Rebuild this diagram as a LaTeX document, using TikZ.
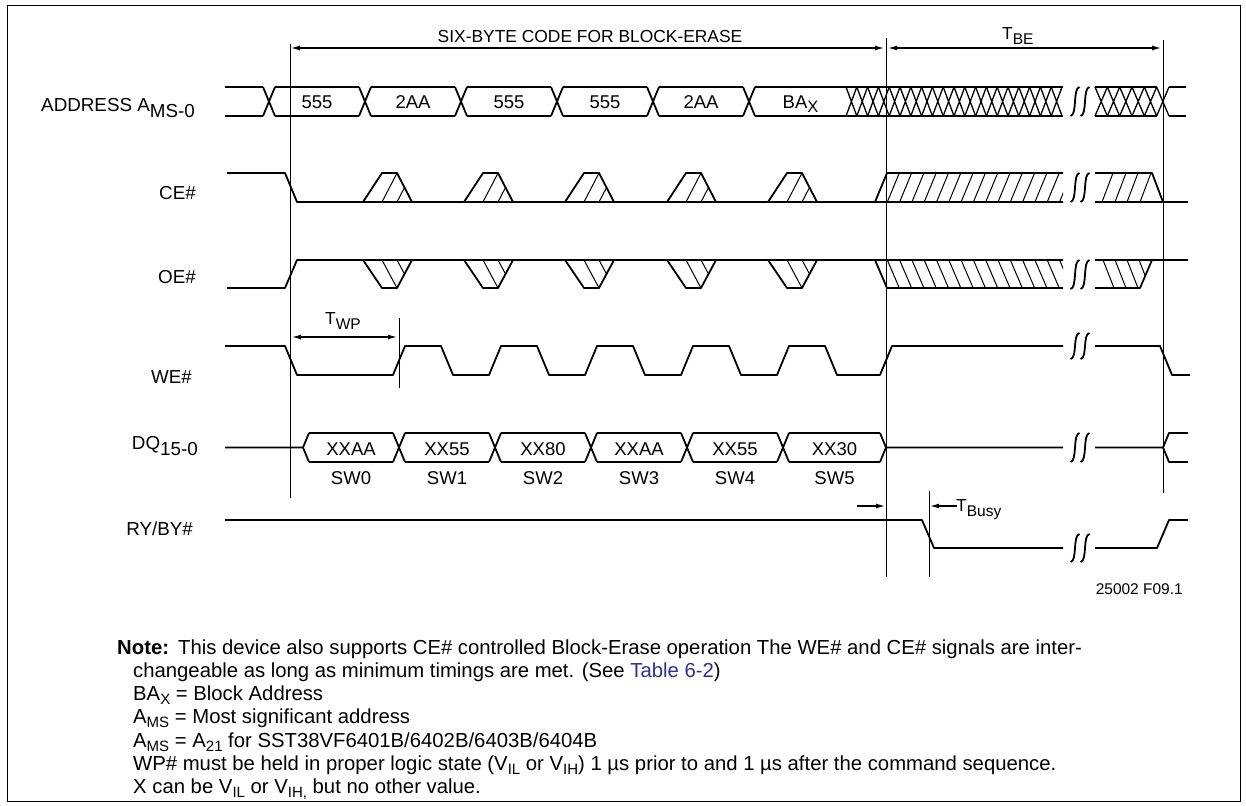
\documentclass[tikz,border=0pt]{standalone}
\usepackage{fontspec}
\setmainfont{Liberation Sans}
\usetikzlibrary{arrows.meta,calc}
\definecolor{tablink}{HTML}{2E3192}
\newcommand{\lsub}[1]{\raisebox{-5pt}{\fontsize{15.5}{15.5}\selectfont #1}}
\newcommand{\nsub}[1]{\raisebox{-4.5pt}{\fontsize{15}{15}\selectfont #1}}
\newcommand{\wavebreak}[3]{%
  \draw[brk] (#1+4.5,#2) .. controls (#1-2.5,#2+1) and (#1+2.5,#3-1) .. (#1-4.5,#3);
  \draw[brk] (#1+14.5,#2) .. controls (#1+7.5,#2+1) and (#1+12.5,#3-1) .. (#1+5.5,#3);}
\tikzset{
  sig/.style={line width=1.8pt,line join=round},
  brk/.style={line width=1.8pt},
  hatchln/.style={line width=1pt},
  lattice/.style={line width=1.3pt},
  vline/.style={line width=1pt},
  dimarr/.style={line width=1.2pt,{Latex[length=9pt,width=5pt]}-{Latex[length=9pt,width=5pt]}},
  onearr/.style={line width=1.2pt,-{Latex[length=9pt,width=5pt]}},
  lbl/.style={anchor=base east,inner sep=0pt,font=\fontsize{18.8}{20}\selectfont},
  val/.style={anchor=base,inner sep=0pt,font=\fontsize{18.5}{20}\selectfont},
  txt/.style={anchor=base west,inner sep=0pt},
  notetxt/.style={anchor=base west,inner sep=0pt,font=\fontsize{20.3}{23}\selectfont}
}
\begin{document}
\begin{tikzpicture}[x=1pt,y=-1pt,font=\fontsize{17.4}{20}\selectfont]
\useasboundingbox (0,0) rectangle (1246,805);
\draw[line width=0.8pt] (7,5) rectangle (1240,801);

% signal names
\node (addr) [lbl] at (195,112) {ADDRESS A\raisebox{-6pt}{MS-0}};
\node (ce) [lbl] at (196,200) {CE\#};
\node (oe) [lbl] at (196,283) {OE\#};
\node (we) [lbl] at (192,383) {WE\#};
\node (dq) [lbl] at (198,449) {DQ\raisebox{-6pt}{15-0}};
\node (ry) [lbl] at (193,535) {RY/BY\#};

% address
\draw[sig] (225,87) -- (263,87) (225,116) -- (263,116);
\foreach \c in {269,365,461,557,653,749}
  \draw[sig] (\c-6,87) -- (\c+6,116) (\c-6,116) -- (\c+6,87);
\foreach \a/\b/\t [count=\i] in {269/365/555,365/461/2AA,461/557/555,557/653/555,653/749/2AA,749/852/BA\raisebox{-4pt}{\fontsize{16.5}{16.5}\selectfont X}} {
  \draw[sig] (\a+6,87) -- (\b-6,87) (\a+6,116) -- (\b-6,116);
  \node (adr\i) [val] at ({(\a+\b)/2},108.5) {\t};
}
\draw[sig] (846,87) -- (1063,87) (846,116) -- (1063,116);
\foreach \i in {0,...,19}
  \draw[lattice] ({846+10.8*\i},87) -- ++(10.8,29) ({846+10.8*\i},116) -- ++(10.8,-29);
\draw[sig] (1095,87) -- (1157,87) (1095,116) -- (1157,116) (1169,87) -- (1186,87) (1169,116) -- (1186,116);
\foreach \i in {0,...,5}
  \draw[lattice] ({1095+12.33*\i},87) -- ++(12.33,29) ({1095+12.33*\i},116) -- ++(12.33,-29);
\wavebreak{1075}{87}{116}

% CE#
\draw[sig] (227,173) -- (285,173) -- (297,202) -- (1063,202) (1095,202) -- (1188,202);
\foreach \a in {363,464,565,667,768} {
  \draw[sig] (\a,202) -- ++(19,-29) -- ++(15,0) -- ++(15,29);
  \draw[hatchln] (\a+19,202) -- ++(15,-29) (\a+34,202) -- ++(7.5,-14.5);
}
\draw[sig] (875,202) -- (887,173) -- (1063,173);
\begin{scope}
  \clip (886,173) rectangle (1063,202);
  \foreach \i in {1,...,15} \draw[hatchln] ({875+12.3*\i},202) -- ++(12,-29);
\end{scope}
\draw[sig] (1095,173) -- (1152,173) -- (1163,202);
\foreach \x in {1102,1115,1127,1140} \draw[hatchln] (\x,202) -- ++(11,-29);
\wavebreak{1075}{173}{202}

% OE#
\draw[sig] (227,288) -- (285,288) -- (297,260) -- (1063,260) (1095,260) -- (1188,260);
\foreach \a in {363,464,565,667,768} {
  \draw[sig] (\a,260) -- ++(19,28) -- ++(15,0) -- ++(15,-28);
  \draw[hatchln] (\a+19,260) -- ++(15,28) (\a+34,260) -- ++(7.5,14);
}
\draw[sig] (875,260) -- (887,288) -- (1063,288);
\begin{scope}
  \clip (886,260) rectangle (1063,288);
  \foreach \i in {1,...,15} \draw[hatchln] ({875+12.3*\i},260) -- ++(12,28);
\end{scope}
\draw[sig] (1095,288) -- (1140,288) -- (1152,260);
\begin{scope}
  \clip (1095,260) -- (1152,260) -- (1140,288) -- (1095,288) -- cycle;
  \foreach \x in {1103,1115,1127,1139} \draw[hatchln] (\x,260) -- ++(11,28);
\end{scope}
\wavebreak{1075}{260}{289}

% WE#
\draw[sig] (225,346) -- (285,346) -- (297,375)
  \foreach \d in {399,495,591,687,783} { -- (\d-6,375) -- (\d+6,346) -- (\d+42,346) -- (\d+54,375) }
  -- (880,375) -- (892,346) -- (1063,346);
\draw[sig] (1095,346) -- (1160,346) -- (1172,375) -- (1190,375);
\wavebreak{1075}{333}{359}

% DQ
\draw[sig] (225,447.5) -- (303,447.5) (309,433) -- (303,447.5) -- (309,462);
\draw[sig] (880,433) -- (886,447.5) -- (880,462);
\foreach \c in {399,495,591,687,783}
  \draw[sig] (\c-6,433) -- (\c+6,462) (\c-6,462) -- (\c+6,433);
\foreach \a/\b/\t [count=\i] in {303/399/XXAA,399/495/XX55,495/591/XX80,591/687/XXAA,687/783/XX55,783/886/XX30} {
  \draw[sig] (\a+6,433) -- (\b-6,433) (\a+6,462) -- (\b-6,462);
  \node (dqv\i) [val] at ({(\a+\b)/2},455) {\t};
  \pgfmathtruncatemacro\k{\i-1}
  \node (sw\i) [val] at ({(\a+\b)/2},484) {SW\k};
}
\draw[sig] (886,447.5) -- (1063,447.5) (1095,447.5) -- (1163,447.5)
  (1188,433) -- (1169,433) -- (1163,447.5) -- (1169,462) -- (1188,462);
\wavebreak{1075}{433}{462}

% RY/BY#
\draw[sig] (225,520) -- (922,520) -- (934,548) -- (1063,548) (1095,548) -- (1157,548) -- (1169,520) -- (1188,520);
\wavebreak{1075}{534}{562}

% timing marks
\draw[vline] (290,44) -- (290,498);
\draw[vline] (886,38) -- (886,577);
\draw[vline] (1163,40) -- (1163,493);
\draw[vline] (929,491) -- (929,577);
\draw[vline] (399,318) -- (399,388);

\coordinate (codeL) at (291,48);
\coordinate (codeR) at (884,48);
\coordinate (tbeL) at (888,48);
\coordinate (tbeR) at (1161,48);
\coordinate (wpL) at (292,337);
\coordinate (wpR) at (397,337);
\coordinate (busyA) at (857,506);
\coordinate (busyB) at (885,506);
\coordinate (busyC) at (957,506);
\coordinate (busyD) at (930,506);
\draw[dimarr] (codeL) -- (codeR);
\draw[dimarr] (tbeL) -- (tbeR);
\draw[dimarr] (wpL) -- (wpR);
\draw[onearr] (busyA) -- (busyB);
\draw[onearr] (busyC) -- (busyD);

\node (code) [anchor=base,inner sep=0pt] at (590,42.5) {SIX-BYTE CODE FOR BLOCK-ERASE};
\node (tbe) [txt] at (1002,40) {T\lsub{BE}};
\node (twp) [txt] at (325,324) {T\lsub{WP}};
\node (tbusy) [txt] at (956,511) {T\lsub{Busy}};
\node (fig) [anchor=base east,inner sep=0pt,font=\fontsize{15.5}{18}\selectfont] at (1183,594) {25002 F09.1};

% notes
\node (note) [notetxt] at (117,654) {\textbf{Note:}};
\node (n1) [notetxt] at (178,654) {This device also supports CE\# controlled Block-Erase operation The WE\# and CE\# signals are inter-};
\node (n2) [notetxt] at (133,677) {changeable as long as minimum timings are met. (See \textcolor{tablink}{Table 6-2})};
\node (n3) [notetxt] at (133,700) {BA\nsub{X} = Block Address};
\node (n4) [notetxt] at (133,723) {A\nsub{MS} = Most significant address};
\node (n5) [notetxt] at (133,747) {A\nsub{MS} = A\nsub{21} for SST38VF6401B/6402B/6403B/6404B};
\node (n6) [notetxt] at (133,770) {WP\# must be held in proper logic state (V\nsub{IL} or V\nsub{IH}) 1 µs prior to and 1 µs after the command sequence.};
\node (n7) [notetxt] at (133,793) {X can be V\nsub{IL} or V\nsub{IH,} but no other value.};
\end{tikzpicture}
\end{document}
